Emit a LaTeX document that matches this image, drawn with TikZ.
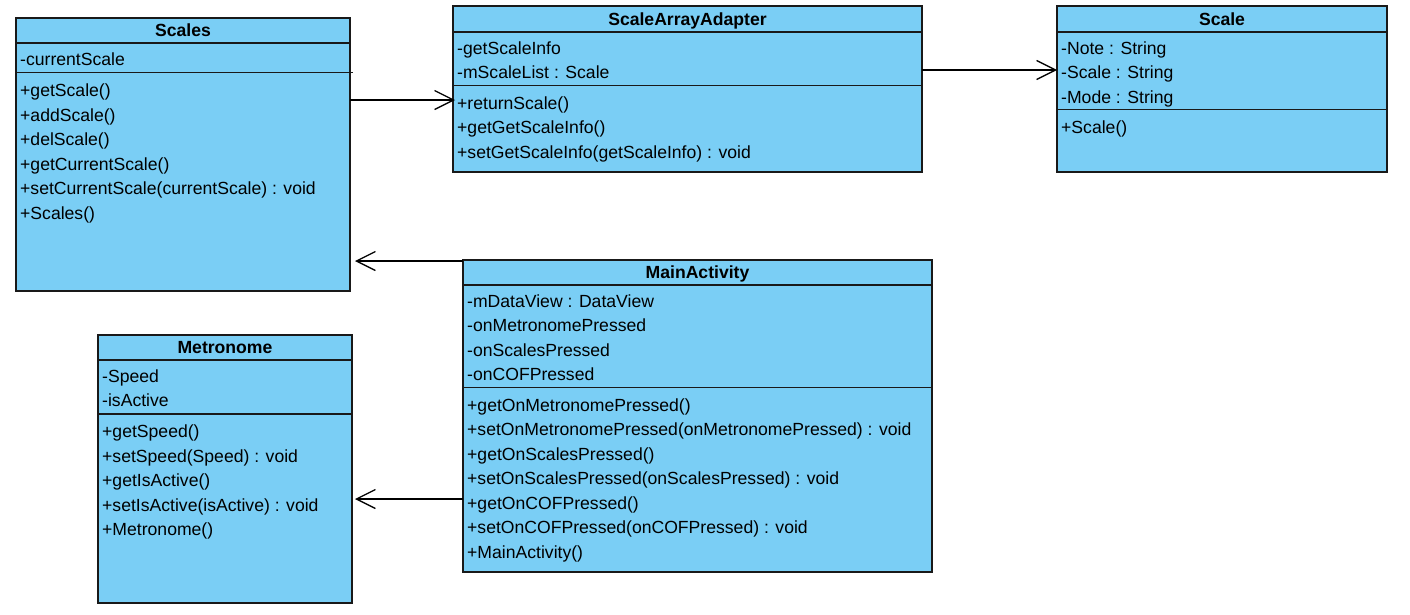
\documentclass[tikz,border=0pt]{standalone}
\usepackage{fontspec}
\setmainfont{Liberation Sans}
\usetikzlibrary{arrows.meta}
\definecolor{classfill}{RGB}{122,206,245}
\definecolor{classline}{RGB}{25,25,25}
\begin{document}
\begin{tikzpicture}[x=1pt,y=-1pt,
  classbox/.style={draw=classline, fill=classfill, line width=1.1pt, inner sep=0pt,
    outer sep=0pt, anchor=north west, rectangle},
  divider/.style={draw=classline, line width=1.1pt},
  ctitle/.style={anchor=base, inner sep=0pt, font=\fontsize{17.6}{20}\selectfont\bfseries},
  member/.style={anchor=base west, inner sep=0pt, font=\fontsize{17.6}{20}\selectfont},
  assoc/.style={draw=black, line width=2.4pt,
    -{Straight Barb[length=19pt, width=19pt, line width=1.3pt]}}]

\fill[white] (0,0) rectangle (1410,614);
\useasboundingbox (0,0) rectangle (1410,614);

% ---- Scales ----
\node[classbox, minimum width=334pt, minimum height=273pt] (scales) at (16,18) {};
\node[ctitle] (scales-t) at (183,36.5) {Scales};
\draw[divider] (scales.west |- 0,43) -- (scales.east |- 0,43);
\draw[divider] (scales.west |- 0,72.5) -- (353,72.5);
\node[member] (scales-a1) at (20,65) {-currentScale};
\foreach \t [count=\i] in {+getScale(),+addScale(),+delScale(),+getCurrentScale(),
    +setCurrentScale(currentScale) : void,+Scales()}
  \node[member] (scales-m\i) at (20,{96.5+24.5*(\i-1)}) {\t};

% ---- ScaleArrayAdapter ----
\node[classbox, minimum width=469pt, minimum height=166pt] (saa) at (453,6) {};
\node[ctitle] (saa-t) at (687.5,25) {ScaleArrayAdapter};
\draw[divider] (saa.west |- 0,32) -- (saa.east |- 0,32);
\draw[divider] (saa.west |- 0,85.5) -- (saa.east |- 0,85.5);
\foreach \t [count=\i] in {-getScaleInfo,-mScaleList : Scale}
  \node[member] (saa-a\i) at (457,{54+24.5*(\i-1)}) {\t};
\foreach \t [count=\i] in {+returnScale(),+getGetScaleInfo(),+setGetScaleInfo(getScaleInfo) : void}
  \node[member] (saa-m\i) at (457,{109+24.5*(\i-1)}) {\t};

% ---- Scale ----
\node[classbox, minimum width=330pt, minimum height=166pt] (scale) at (1057,6) {};
\node[ctitle] (scale-t) at (1222,25) {Scale};
\draw[divider] (scale.west |- 0,32) -- (scale.east |- 0,32);
\draw[divider] (scale.west |- 0,109.5) -- (scale.east |- 0,109.5);
\foreach \t [count=\i] in {-Note : String,-Scale : String,-Mode : String}
  \node[member] (scale-a\i) at (1061,{54+24.5*(\i-1)}) {\t};
\node[member] (scale-m1) at (1061,133.5) {+Scale()};

% ---- Metronome ----
\node[classbox, minimum width=254pt, minimum height=268pt] (metro) at (98,335) {};
\node[ctitle] (metro-t) at (225,353.5) {Metronome};
\draw[divider] (metro.west |- 0,360) -- (metro.east |- 0,360);
\draw[divider] (metro.west |- 0,414) -- (metro.east |- 0,414);
\foreach \t [count=\i] in {-Speed,-isActive}
  \node[member] (metro-a\i) at (102,{382+24.5*(\i-1)}) {\t};
\foreach \t [count=\i] in {+getSpeed(),+setSpeed(Speed) : void,+getIsActive(),
    +setIsActive(isActive) : void,+Metronome()}
  \node[member] (metro-m\i) at (102,{437.5+24.5*(\i-1)}) {\t};

% ---- MainActivity ----
\node[classbox, minimum width=469pt, minimum height=312pt] (main) at (463,260) {};
\node[ctitle] (main-t) at (697.5,278.5) {MainActivity};
\draw[divider] (main.west |- 0,285) -- (main.east |- 0,285);
\draw[divider] (main.west |- 0,387.5) -- (main.east |- 0,387.5);
\foreach \t [count=\i] in {-mDataView : DataView,-onMetronomePressed,-onScalesPressed,-onCOFPressed}
  \node[member] (main-a\i) at (467,{307+24.5*(\i-1)}) {\t};
\foreach \t [count=\i] in {+getOnMetronomePressed(),+setOnMetronomePressed(onMetronomePressed) : void,
    +getOnScalesPressed(),+setOnScalesPressed(onScalesPressed) : void,+getOnCOFPressed(),
    +setOnCOFPressed(onCOFPressed) : void,+MainActivity()}
  \node[member] (main-m\i) at (467,{411+24.5*(\i-1)}) {\t};

% ---- associations ----
\draw[assoc] (scales.east |- 0,100) -- ([xshift=2pt]saa.west |- 0,100);
\draw[assoc] (saa.east |- 0,70) -- (scale.west |- 0,70);
\draw[assoc] ([yshift=-1pt]main.north west) -- ([xshift=5pt]scales.east |- 0,261);
\draw[assoc] (main.west |- 0,499) -- ([xshift=3pt]metro.east |- 0,499);

\end{tikzpicture}
\end{document}
